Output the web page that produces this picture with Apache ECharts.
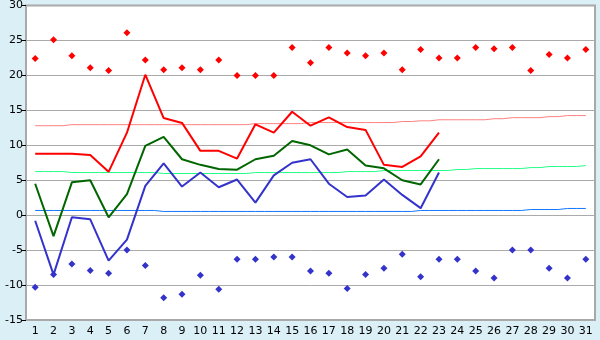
<!DOCTYPE html>
<html><head><meta charset="utf-8">
<script src="https://cdn.jsdelivr.net/npm/echarts@6/dist/echarts.min.js"></script>
<style>html,body{margin:0;padding:0;background:#daeff6;}#c{width:600px;height:340px;}</style>
</head><body><div id="c"></div>
<script>
const days = Array.from({length:31},(_,i)=>String(i+1));
const yTicks = [-15,-10,-5,0,5,10,15,20,25,30];
const recordMax = [22.4,25.1,22.8,21.1,20.7,26.1,22.2,20.8,21.1,20.8,22.2,20.0,20.0,20.0,24.0,21.8,24.0,23.2,22.8,23.2,20.8,23.7,22.5,22.5,24.0,23.8,24.0,20.7,23.0,22.5,23.7];
const recordMin = [-10.3,-8.5,-7.0,-7.9,-8.3,-5.0,-7.2,-11.8,-11.3,-8.6,-10.6,-6.3,-6.3,-6.0,-6.0,-8.0,-8.3,-10.5,-8.5,-7.6,-5.6,-8.8,-6.3,-6.3,-8.0,-9.0,-5.0,-5.0,-7.6,-9.0,-6.3];
const maxTemp = [8.8,8.8,8.8,8.6,6.2,11.8,20.1,13.9,13.2,9.2,9.2,8.1,13.0,11.8,14.8,12.8,14.0,12.6,12.2,7.2,6.9,8.4,11.8];
const meanTemp = [4.5,-3.0,4.7,5.0,-0.3,3.0,9.9,11.2,8.0,7.2,6.6,6.5,8.0,8.5,10.6,10.0,8.7,9.4,7.1,6.7,5.0,4.4,8.0];
const minTemp = [-0.8,-8.5,-0.3,-0.6,-6.5,-3.5,4.2,7.4,4.1,6.1,4.0,5.1,1.8,5.7,7.5,8.0,4.5,2.6,2.8,5.1,2.9,1.0,6.1];
const normalMax = [12.8,12.8,12.95,12.95,12.95,12.95,12.95,12.95,12.95,12.95,12.95,12.95,13.1,13.1,13.1,13.25,13.25,13.25,13.25,13.25,13.4,13.5,13.65,13.65,13.65,13.8,13.95,13.95,14.1,14.25,14.25];
const normalMean = [6.24,6.24,6.1,6.1,6.1,6.1,6.1,5.96,5.96,5.96,5.96,5.96,6.1,6.1,6.1,6.1,6.1,6.24,6.24,6.39,6.39,6.39,6.39,6.53,6.67,6.67,6.67,6.81,6.96,6.96,7.1];
const normalMin = [0.67,0.67,0.67,0.67,0.67,0.67,0.67,0.53,0.53,0.53,0.53,0.53,0.53,0.53,0.53,0.53,0.53,0.53,0.53,0.53,0.53,0.67,0.67,0.67,0.67,0.67,0.67,0.81,0.81,0.96,0.96];

const chart = echarts.init(document.getElementById('c'), null, {renderer:'canvas'});
const lab = {color:'#000', fontFamily:'DejaVu Sans', fontSize:11};
function line(data, color, width, z, step){
  return {type:'line', data, symbol:'none', step: step||false, z,
    lineStyle:{color, width}, itemStyle:{color}, animation:false};
}
chart.setOption({
  animation:false,
  backgroundColor:'#daeff6',
  grid:{left:26, right:5, top:5, bottom:20, show:true, backgroundColor:'#fff', borderColor:'#a8a8a8', borderWidth:2},
  xAxis:{type:'category', data:days, boundaryGap:true,
    axisLine:{lineStyle:{color:'#aaa', width:1}},
    axisTick:{alignWithLabel:true, length:4, lineStyle:{color:'#000'}},
    axisLabel:Object.assign({margin:6, interval:0}, lab),
    splitLine:{show:false}},
  yAxis:{type:'value', min:yTicks[0], max:yTicks[yTicks.length-1], interval:5,
    axisLine:{show:true, lineStyle:{color:'#aaa'}},
    axisTick:{show:true, length:4, lineStyle:{color:'#000'}},
    axisLabel:Object.assign({margin:3}, lab),
    splitLine:{lineStyle:{color:'#aaa', width:1}}},
  series:[
    line(normalMax, '#ff8080', 1, 2, 'middle'),
    line(normalMean, '#22ff88', 1, 2, 'middle'),
    line(normalMin, '#1177ff', 1, 2, 'middle'),
    line(maxTemp, '#ff0000', 2, 5),
    line(meanTemp, '#006600', 2, 5),
    line(minTemp, '#3333cc', 2, 5),
    {type:'scatter', data:recordMax, symbol:'diamond', symbolSize:7, itemStyle:{color:'#ff0000', opacity:1}, z:6},
    {type:'scatter', data:recordMin, symbol:'diamond', symbolSize:7, itemStyle:{color:'#3333cc', opacity:1}, z:6}
  ]
});
</script></body></html>
